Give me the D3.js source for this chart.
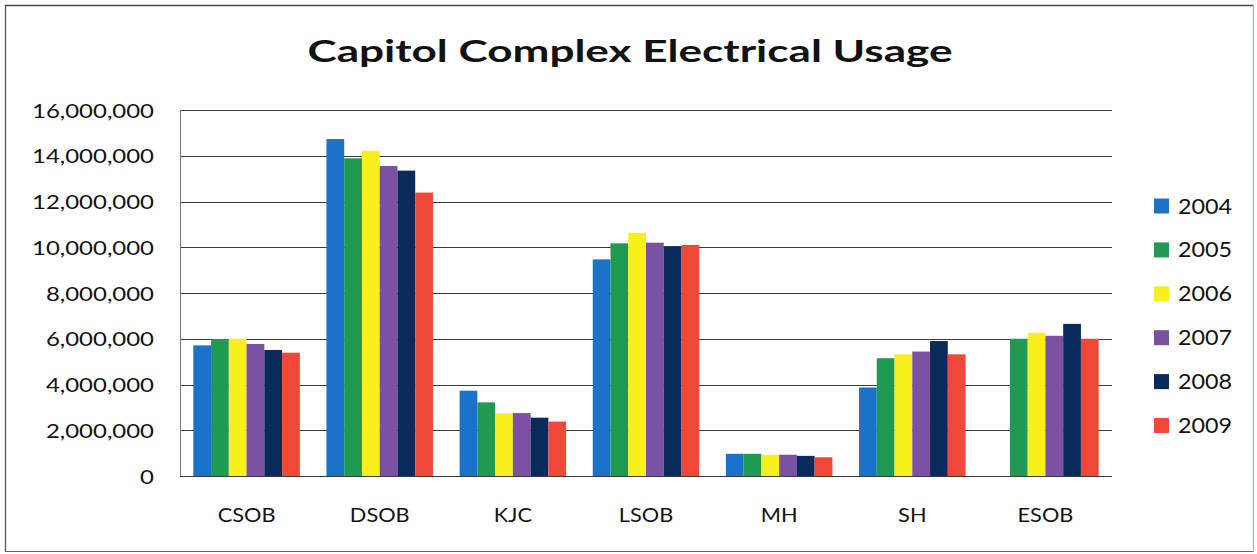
<!DOCTYPE html>
<html>
<head>
<meta charset="utf-8">
<script src="https://cdn.jsdelivr.net/npm/d3@7"></script>
<style>
  html, body { margin: 0; padding: 0; background: #fff; }
  svg { display: block; }
  text { font-family: Lato, "Open Sans", sans-serif; fill: #111; }
</style>
</head>
<body>
<svg id="chart" width="1257" height="554"></svg>
<script>
const categories = ["CSOB", "DSOB", "KJC", "LSOB", "MH", "SH", "ESOB"];
const years = ["2004", "2005", "2006", "2007", "2008", "2009"];
const colors = ["#1a72c9", "#1f9a52", "#f8ef1c", "#7b52a3", "#0b2a5c", "#ef4838"];
const v2004 = [5710000, 14730000, 3730000, 9470000, 970000, 3870000, null];
const v2005 = [5990000, 13890000, 3220000, 10170000, 970000, 5150000, 6000000];
const v2006 = [6000000, 14220000, 2740000, 10630000, 930000, 5320000, 6260000];
const v2007 = [5770000, 13550000, 2750000, 10200000, 930000, 5440000, 6130000];
const v2008 = [5510000, 13350000, 2550000, 10050000, 880000, 5900000, 6650000];
const v2009 = [5390000, 12390000, 2380000, 10100000, 820000, 5320000, 6000000];
const yTicks = [0, 2000000, 4000000, 6000000, 8000000, 10000000, 12000000, 14000000, 16000000];
const title = "Capitol Complex Electrical Usage";

const series = [v2004, v2005, v2006, v2007, v2008, v2009];

const svg = d3.select("#chart");
const W = 1257, H = 554;
const plot = { left: 180, right: 1112, top: 110, bottom: 476 };

// chart border (dark left/top/bottom, lighter right edge as in the scan)
const border = svg.append("g").attr("fill", "none");
border.append("line").attr("x1", 5.5).attr("x2", 5.5).attr("y1", 5).attr("y2", 552).attr("stroke", "#555").attr("stroke-width", 1.3);
border.append("line").attr("x1", 5).attr("x2", 1254).attr("y1", 5.5).attr("y2", 5.5).attr("stroke", "#444").attr("stroke-width", 1.3);
border.append("line").attr("x1", 5).attr("x2", 1254).attr("y1", 551.5).attr("y2", 551.5).attr("stroke", "#666").attr("stroke-width", 1.2);
border.append("line").attr("x1", 1253.5).attr("x2", 1253.5).attr("y1", 5).attr("y2", 552).attr("stroke", "#9fb5b8").attr("stroke-width", 1.2);

const x0 = d3.scaleBand().domain(categories).range([plot.left, plot.right])
  .paddingInner(0.2).paddingOuter(0.1);
const x1 = d3.scaleBand().domain(years).range([0, x0.bandwidth()]);
const y = d3.scaleLinear().domain([0, 16000000]).range([plot.bottom, plot.top]);

// gridlines
svg.append("g").selectAll("line").data(yTicks).join("line")
  .attr("x1", plot.left).attr("x2", plot.right)
  .attr("y1", d => Math.round(y(d)) + 0.5).attr("y2", d => Math.round(y(d)) + 0.5)
  .attr("stroke", "#3a3a3a").attr("stroke-width", 1);

// bars
const bars = [];
series.forEach((vals, si) => {
  vals.forEach((v, ci) => {
    if (v !== null && v !== undefined) bars.push({ cat: categories[ci], year: years[si], v, c: colors[si] });
  });
});
svg.append("g").selectAll("rect").data(bars).join("rect")
  .attr("x", d => x0(d.cat) + x1(d.year))
  .attr("y", d => y(d.v))
  .attr("width", x1.bandwidth())
  .attr("height", d => y(0) - y(d.v))
  .attr("fill", d => d.c);

// vertical axis line
svg.append("line").attr("x1", plot.left + 0.5).attr("x2", plot.left + 0.5)
  .attr("y1", plot.top).attr("y2", plot.bottom).attr("stroke", "#777").attr("stroke-width", 1);

// y axis
const yAxis = d3.axisLeft(y).tickValues(yTicks).tickSize(0).tickPadding(0)
  .tickFormat(d3.format(","));
const yg = svg.append("g").attr("transform", `translate(${plot.left - 26},0)`).call(yAxis);
yg.select(".domain").remove();
yg.selectAll("text").attr("font-family", "Lato, 'Open Sans', sans-serif").attr("font-size", 19.5)
  .attr("fill", "#111").attr("dy", "0.36em");

// x axis labels
const xAxis = d3.axisBottom(x0).tickSize(0).tickPadding(0);
const xg = svg.append("g").attr("transform", `translate(0,${plot.bottom + 46})`).call(xAxis);
xg.select(".domain").remove();
xg.selectAll("text").attr("font-family", "Lato, 'Open Sans', sans-serif").attr("font-size", 20)
  .attr("fill", "#111").attr("dy", 0);

// title
const t = svg.append("text").attr("x", 630).attr("y", 62).attr("text-anchor", "middle")
  .attr("font-size", 29.5).attr("font-weight", "bold").text(title);

// legend
const lg = svg.append("g");
years.forEach((yr, i) => {
  const cy = 206 + i * 43.9;
  lg.append("rect").attr("x", 1154).attr("y", cy - 7.5).attr("width", 15).attr("height", 15).attr("fill", colors[i]);
  lg.append("text").attr("x", 1178).attr("y", cy + 7.5).attr("font-size", 20.5).attr("class", "legtext").text(yr);
});

// horizontal stretch to match the reference's wide lettering
function stretch(sel, k) {
  sel.each(function () {
    const w = this.getComputedTextLength();
    d3.select(this).attr("textLength", w * k).attr("lengthAdjust", "spacingAndGlyphs");
  });
}
function measure(sel, str) {
  let w = 0;
  sel.each(function () { if (this.textContent === str) w = this.getComputedTextLength(); });
  return w;
}
const kTick = 122 / (measure(yg.selectAll("text"), "16,000,000") || 122);
stretch(yg.selectAll("text"), kTick);
const kCat = 57.7 / (measure(xg.selectAll("text"), "CSOB") || 57.7);
stretch(xg.selectAll("text"), kCat);
const kLeg = 54 / (measure(lg.selectAll("text"), "2004") || 54);
stretch(lg.selectAll("text"), kLeg);
const kTitle = 645 / t.node().getComputedTextLength();
stretch(t, kTitle);
</script>
</body>
</html>
